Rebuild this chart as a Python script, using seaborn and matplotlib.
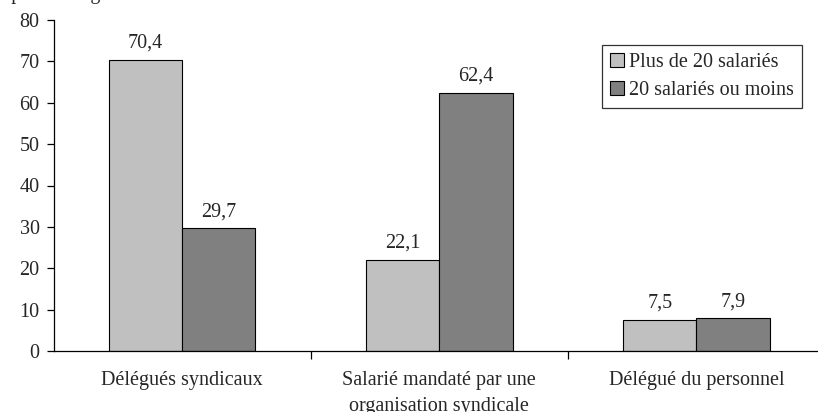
import matplotlib
matplotlib.use("Agg")
import matplotlib.pyplot as plt
import seaborn as sns
import pandas as pd
from matplotlib.ticker import FixedLocator, NullFormatter

# Values per signatory type and company size
categories = ["Délégués syndicaux",
              "Salarié mandaté par une\norganisation syndicale",
              "Délégué du personnel"]
series_names = ["Plus de 20 salariés", "20 salariés ou moins"]
plus_de_20 = [70.4, 22.1, 7.5]
moins_de_20 = [29.7, 62.4, 7.9]
y_ticks = [0, 10, 20, 30, 40, 50, 60, 70, 80]

df = pd.DataFrame({
    "categorie": categories * 2,
    "serie": [series_names[0]] * 3 + [series_names[1]] * 3,
    "valeur": plus_de_20 + moins_de_20,
})

sns.set_style("white")
plt.rcParams["font.family"] = ["Liberation Serif", "DejaVu Serif"]
FS = 14.5

fig = plt.figure(figsize=(8.18, 4.12), dpi=100)
ax = fig.add_axes([53.5 / 818, 61 / 412, (825 - 53.5) / 818, 331 / 412])

palette = {series_names[0]: "#C0C0C0", series_names[1]: "#808080"}
sns.barplot(data=df, x="categorie", y="valeur", hue="serie",
            order=categories, hue_order=series_names, palette=palette,
            width=0.57, gap=0, edgecolor="black", linewidth=0.8,
            saturation=1, errorbar=None, ax=ax)

# Value labels above each bar
for container in ax.containers:
    labels = [f"{v:.1f}".replace(".", ",") for v in container.datavalues]
    ax.bar_label(container, labels=labels, padding=5, fontsize=FS)

ax.set_xlim(-0.5, 2.5)
ax.set_ylim(0, 80)
ax.set_yticks(y_ticks)
ax.set_xlabel("")
ax.set_ylabel("")

for side in ("top", "right"):
    ax.spines[side].set_visible(False)
for side in ("left", "bottom"):
    ax.spines[side].set_color("black")
    ax.spines[side].set_linewidth(0.9)

ax.tick_params(axis="y", which="major", left=True, direction="out",
               length=5, width=0.9, color="black", labelsize=FS, pad=5)
ax.tick_params(axis="x", which="major", bottom=False, labelsize=FS, pad=11,
               length=3.5)
ax.xaxis.set_minor_locator(FixedLocator([0.5, 1.5]))
ax.xaxis.set_minor_formatter(NullFormatter())
ax.tick_params(axis="x", which="minor", bottom=True, direction="out",
               length=6, width=0.9, color="black")
for lbl in ax.get_xticklabels():
    lbl.set_linespacing(1.5)

leg = ax.legend(loc="upper right", bbox_to_anchor=(802 / 818, 1 - 45 / 412),
                bbox_transform=fig.transFigure, frameon=True, fancybox=False,
                edgecolor="black", fontsize=FS, handlelength=0.7,
                handleheight=0.7, handletextpad=0.25, borderpad=0.4,
                labelspacing=0.45, borderaxespad=0)
leg.get_frame().set_linewidth(0.9)

fig.text(-16 / 818, 1 + 1 / 412, "En pourcentage", fontsize=FS,
         va="baseline", ha="left")

fig.savefig("out.png", dpi=100)
